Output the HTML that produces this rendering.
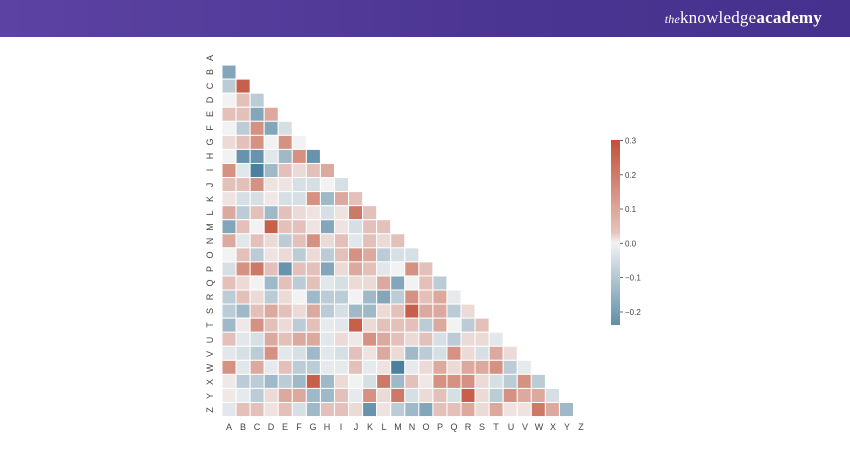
<!DOCTYPE html>
<html><head><meta charset="utf-8"><style>
body{margin:0;width:850px;height:450px;background:#fff;overflow:hidden;position:relative;font-family:"Liberation Sans",sans-serif}
#hdr{position:absolute;left:0;top:0;width:850px;height:37px;background:linear-gradient(90deg,#5c43a3,#4b3592 60%,#46318e)}
#logo{position:absolute;right:28px;top:8px;color:#fff;font-family:"Liberation Serif",serif;font-size:17px;letter-spacing:0.2px}
#logo i{font-size:12px}
svg{position:absolute;left:0;top:0}
</style></head><body>
<div id="hdr"><div id="logo"><i>the</i>knowledge<b>academy</b></div></div>
<svg width="850" height="450" id="s">
<g id="cells"></g>
<g font-size="9" fill="#444" text-anchor="middle">
<text x="229" y="430">A</text><text x="243" y="430">B</text><text x="257" y="430">C</text><text x="271" y="430">D</text><text x="285" y="430">E</text><text x="299" y="430">F</text><text x="313" y="430">G</text><text x="327" y="430">H</text><text x="341" y="430">I</text><text x="356" y="430">J</text><text x="370" y="430">K</text><text x="384" y="430">L</text><text x="398" y="430">M</text><text x="412" y="430">N</text><text x="426" y="430">O</text><text x="440" y="430">P</text><text x="454" y="430">Q</text><text x="468" y="430">R</text><text x="482" y="430">S</text><text x="496" y="430">T</text><text x="511" y="430">U</text><text x="525" y="430">V</text><text x="539" y="430">W</text><text x="553" y="430">X</text><text x="567" y="430">Y</text><text x="581" y="430">Z</text>
</g>
<g font-size="9" fill="#444" text-anchor="middle" id="ylab">
<text transform="translate(213,58) rotate(-90)">A</text><text transform="translate(213,72) rotate(-90)">B</text><text transform="translate(213,86) rotate(-90)">C</text><text transform="translate(213,100) rotate(-90)">D</text><text transform="translate(213,114) rotate(-90)">E</text><text transform="translate(213,128) rotate(-90)">F</text><text transform="translate(213,142) rotate(-90)">G</text><text transform="translate(213,156) rotate(-90)">H</text><text transform="translate(213,170) rotate(-90)">I</text><text transform="translate(213,185) rotate(-90)">J</text><text transform="translate(213,199) rotate(-90)">K</text><text transform="translate(213,213) rotate(-90)">L</text><text transform="translate(213,227) rotate(-90)">M</text><text transform="translate(213,241) rotate(-90)">N</text><text transform="translate(213,255) rotate(-90)">O</text><text transform="translate(213,269) rotate(-90)">P</text><text transform="translate(213,283) rotate(-90)">Q</text><text transform="translate(213,297) rotate(-90)">R</text><text transform="translate(213,311) rotate(-90)">S</text><text transform="translate(213,325) rotate(-90)">T</text><text transform="translate(213,340) rotate(-90)">U</text><text transform="translate(213,354) rotate(-90)">V</text><text transform="translate(213,368) rotate(-90)">W</text><text transform="translate(213,382) rotate(-90)">X</text><text transform="translate(213,396) rotate(-90)">Y</text><text transform="translate(213,410) rotate(-90)">Z</text>
</g>
<defs><linearGradient id="cb" x1="0" y1="0" x2="0" y2="1">
<stop offset="0" stop-color="#c1503a"/><stop offset="0.5" stop-color="#e7c3bb"/><stop offset="0.555" stop-color="#f2f2f2"/><stop offset="1" stop-color="#5f8ea8"/></linearGradient></defs>
<rect x="611" y="140" width="9" height="185" fill="url(#cb)"/>
<g stroke="#444" stroke-width="0.8">
<line x1="620" x2="623" y1="140.5" y2="140.5"/><line x1="620" x2="623" y1="174.8" y2="174.8"/><line x1="620" x2="623" y1="209" y2="209"/><line x1="620" x2="623" y1="243.3" y2="243.3"/><line x1="620" x2="623" y1="277.6" y2="277.6"/><line x1="620" x2="623" y1="312" y2="312"/>
</g>
<g font-size="8" fill="#444">
<text x="625" y="143.5">0.3</text><text x="625" y="177.8">0.2</text><text x="625" y="212">0.1</text><text x="625" y="246.3">0.0</text><text x="625" y="280.6">−0.1</text><text x="625" y="315">−0.2</text>
</g>
</svg>
<script>
var R=[
[],
[-2],
[-1,3],
[0,1,-1],
[1,1,-2,1.5],
[0,-1,2,-2,-0.5],
[0.5,1,2,0,2,0],
[0,-2.5,-2.5,-0.3,-1.5,2,-2.5],
[2,-0.3,-3,-1.5,1,0.5,1,1.5],
[1,1,2,0.3,0.3,-0.5,-0.5,0,-0.5],
[0.3,-0.5,-0.5,0.2,-0.5,-0.5,2,-1.5,1.5,1],
[1.5,-1,1,-1.5,1,0.5,0.3,-0.5,0.3,2.5,1],
[-2,1,0,3,1,1,0.3,-2,0.3,-0.5,1,1],
[1.5,-0.3,1,0.5,-1,1,2,0.5,1,-0.3,1,0.5,1],
[0,1,-1,0.3,0.5,-1,0.5,-1,1,2,1.5,-1,-0.5,-0.5],
[-0.5,2,2.5,1,-2.5,1,1,-2,0.5,1.5,1,-0.3,0,2,1],
[1,0.5,0,-1.5,1,-1,1,-0.3,-0.5,0.5,0.5,1.5,-2,0,1,-1],
[-1,1,0.5,-1,0.5,0,-1.5,-1,-1,0,-1.5,-2,-1,2,1,1.5,-0.2],
[-1,-1.5,1,1.5,1,0.5,1.5,-1,-0.5,-1.5,-1.5,0.5,1,3,1.5,1.5,-1,0.5],
[-1.5,0.2,2,1,0.5,-1,1,-0.2,-0.3,3,0.5,1,1,1,-1,1.5,0,-1,1],
[1,-0.3,-0.5,1.5,1,1.5,1.5,-0.3,0.5,0.2,2,1.5,1,0.5,1,-0.5,-1,0.5,0.5,-0.3],
[-0.3,-0.5,-1,2,-0.3,-0.5,-1.5,-0.3,-0.5,1,0.3,1.5,0.5,-1.5,-1,-0.5,2,0.5,-0.5,1.5,0.5],
[2,-0.3,1.5,-0.2,1,-1,-1,-0.2,-0.2,1,-0.2,0.3,-3,-0.2,0.5,1.5,0.5,1.5,1.5,2,-1,-0.2],
[0.2,-1,-1,-1.5,-1,-1.5,3,-1.5,0.5,0,-0.5,2.5,-1.5,1,0.2,2,2,2,0.5,-0.5,-1,2,-1],
[0.2,-0.2,-1,0.5,1.5,1.5,-1.5,-1.5,1,-0.2,2,0.5,2.5,-0.5,0.5,1,-0.5,3,0.5,-1,2,1.5,1.5,-0.5],
[-0.3,1,1,0.3,1,-0.5,-1.5,1,1,0.5,-2.5,0.3,-1,-1.5,-2,1,1,1.5,0.5,1.5,0.3,0.3,2.5,1.5,-1.5]
];
function col(l){var v=l*0.09,t=Math.max(-1,Math.min(1,v/0.3)),c=[242,242,242],e=t>0?[193,80,56]:[58,115,150],a=Math.abs(t);
return 'rgb('+c.map(function(x,i){return Math.round(x+(e[i]-x)*a)}).join(',')+')';}
var g=document.getElementById('cells'),h='',s=14.06;
for(var r=0;r<26;r++)for(var c=0;c<r;c++){h+='<rect x="'+(222+c*s)+'" y="'+(51+r*s)+'" width="'+s+'" height="'+s+'" fill="'+col(R[r][c])+'" stroke="#fff" stroke-width="1"/>';}
g.innerHTML=h;
</script>
</body></html>
